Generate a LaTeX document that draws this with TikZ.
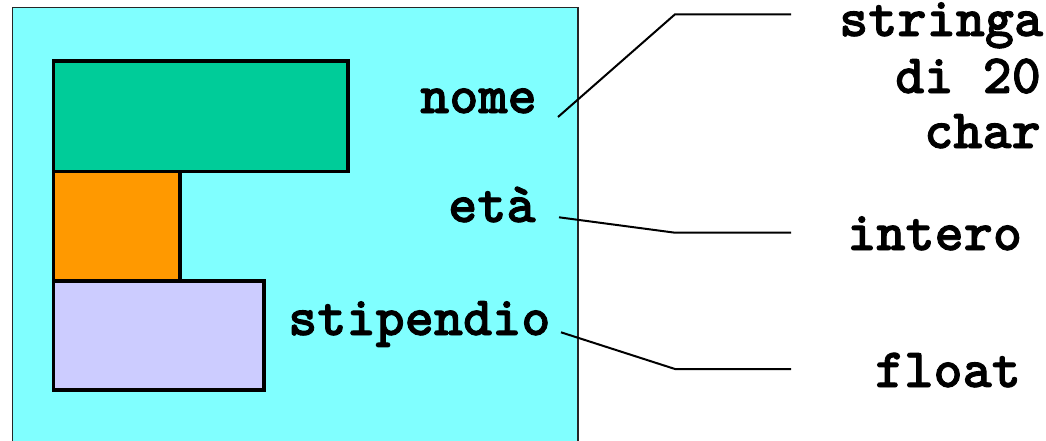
\documentclass[tikz,border=0pt]{standalone}
\usepackage{fontspec}
\newfontfamily\lblfont{lmmonolt10-bold.otf}[FakeBold=1.5]
\definecolor{cyanbg}{HTML}{80FFFF}
\definecolor{greenbox}{HTML}{00CC99}
\definecolor{orangebox}{HTML}{FF9900}
\definecolor{lavbox}{HTML}{CCCCFF}
\begin{document}
\begin{tikzpicture}[x=1pt,y=-1pt,
  lbl/.style={font=\fontsize{55.5}{57}\selectfont\lblfont, inner sep=0pt, anchor=base west},
  conn/.style={line width=2pt, black},
  fieldbox/.style={draw=black, line width=3.5pt}]
\useasboundingbox (0,0) rectangle (1046,440);
\clip (0,0) rectangle (1046,440);
\fill[white] (0,0) rectangle (1046,440);
% panel
\draw[fill=cyanbg, draw=black!85, line width=1.5pt] (12.6,7.3) rectangle (578,460);
\coordinate (panel) at (12.6,7.3);
% field boxes
\draw[fieldbox, fill=greenbox] (53.6,61) rectangle (348,171.5);
\draw[fieldbox, fill=orangebox] (53.6,171.5) rectangle (180,281);
\draw[fieldbox, fill=lavbox] (53.6,281) rectangle (264,390);
% labels
\node[lbl] (nome) at (420,113) {nome};
\node[lbl] (eta) at (448,222) {età};
\node[lbl] (stip) at (288,335) {stipendio};
\node[lbl] (str1) at (839,36) {stringa};
\node[lbl] (str2) at (895,93) {di 20};
\node[lbl] (str3) at (924,148) {char};
\node[lbl] (intero) at (847,250) {intero};
\node[lbl] (float) at (875,387) {float};
% connector points
\coordinate (n0) at (558,117);
\coordinate (n1) at (675,14.3);
\coordinate (n2) at (791,14.3);
\coordinate (e0) at (559,217.3);
\coordinate (e1) at (675,232.7);
\coordinate (e2) at (791,232.7);
\coordinate (s0) at (561,332.3);
\coordinate (s1) at (675,369);
\coordinate (s2) at (791,369);
\draw[conn] (n0) -- (n1) -- (n2);
\draw[conn] (e0) -- (e1) -- (e2);
\draw[conn] (s0) -- (s1) -- (s2);
\end{tikzpicture}
\end{document}
